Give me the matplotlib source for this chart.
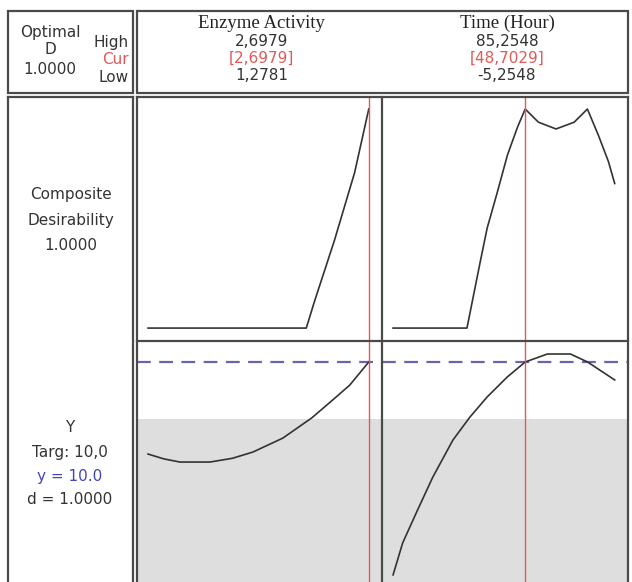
import numpy as np
import matplotlib
matplotlib.use("Agg")
import matplotlib.pyplot as plt
from matplotlib.patches import Rectangle

# %% DATA
factors = ["Enzyme Activity", "Time (Hour)"]
f_high = [2.6979, 85.2548]
f_cur = [2.6979, 48.7029]
f_low = [1.2781, -5.2548]
high_txt = ["2,6979", "85,2548"]
cur_txt = ["[2,6979]", "[48,7029]"]
low_txt = ["1,2781", "-5,2548"]

target = 10.0
lower_bound = 8.0
comp_d = "1.0000"

# composite desirability vs factor
enz_d_x = [1.2781, 2.296, 2.348, 2.477, 2.607, 2.6979]
enz_d_y = [0.0, 0.0, 0.12, 0.40, 0.71, 1.0]
time_d_x = [-5.2548, 24.92, 30.29, 33.18, 37.31, 41.45, 45.58, 48.70,
            54.1, 61.3, 68.7, 74.1, 78.6, 82.7, 85.2548]
time_d_y = [0.0, 0.0, 0.30, 0.457, 0.62, 0.79, 0.918, 1.0,
            0.94, 0.909, 0.94, 1.0, 0.88, 0.76, 0.66]

# predicted response Y vs factor
enz_y_x = [1.2781, 1.38, 1.4837, 1.6764, 1.82, 1.9526, 2.1453, 2.3316, 2.4665, 2.5757, 2.6979]
enz_y_y = [6.77, 6.60, 6.49, 6.49, 6.62, 6.84, 7.33, 8.04, 8.67, 9.19, 10.0]
time_y_x = [-5.2548, -1.35, 4.39, 10.96, 19.17, 26.15, 33.13, 41.33, 48.7029,
            57.75, 67.19, 74.17, 85.2548]
time_y_y = [2.53, 3.65, 4.74, 5.96, 7.26, 8.07, 8.77, 9.47, 10.0,
            10.28, 10.28, 10.0, 9.37]

# %% LAYOUT (pixels)
W, H = 632, 582
col_x = [(137, 382), (382, 628)]
row_d = (97, 341)
row_y = (341, H)

def frac(x0, x1, y0, y1):
    return [x0 / W, 1 - y1 / H, (x1 - x0) / W, (y1 - y0) / H]

line_c = "#333333"
red_c = "#e05a5a"
blue_c = "#6666aa"
txt_c = "#333333"
border_c = "#4a4a4a"

fig = plt.figure(figsize=(W / 100, H / 100), dpi=100)
fig.patch.set_facecolor("white")

curves_d = [(enz_d_x, enz_d_y), (time_d_x, time_d_y)]
curves_y = [(enz_y_x, enz_y_y), (time_y_x, time_y_y)]
pads = (0.05, 0.06)

for i in range(2):
    lo, hi = f_low[i], f_high[i]
    span = hi - lo
    xlim = (lo - pads[0] * span, hi + pads[1] * span)

    # desirability panel
    ax = fig.add_axes(frac(col_x[i][0], col_x[i][1], row_d[0], row_d[1]))
    ax.plot(curves_d[i][0], curves_d[i][1], color=line_c, lw=1.2)
    ax.axvline(f_cur[i], color=red_c, lw=1.0)
    ax.set_xlim(xlim)
    ax.set_ylim(-0.059, 1.055)
    ax.axis("off")

    # response panel
    ax = fig.add_axes(frac(col_x[i][0], col_x[i][1], row_y[0], row_y[1]))
    ax.axhspan(2.0, lower_bound, color="#dedede", lw=0, zorder=0)
    ax.plot(curves_y[i][0], curves_y[i][1], color=line_c, lw=1.2, zorder=3)
    ax.axhline(target, color=blue_c, lw=1.6, ls=(0, (6.2, 3.8)), zorder=2)
    ax.axvline(f_cur[i], color=red_c, lw=1.0, zorder=4)
    ax.set_xlim(xlim)
    ax.set_ylim(10 - (H - 362) / 28.5, 10 + 21 / 28.5)
    ax.axis("off")

# %% OVERLAY: borders and text
ov = fig.add_axes([0, 0, 1, 1], zorder=10)
ov.set_xlim(0, W)
ov.set_ylim(H, 0)
ov.patch.set_alpha(0)
ov.axis("off")

lw_b = 1.6
ov.add_patch(Rectangle((8, 11), 125, 82, fill=False, ec=border_c, lw=lw_b))
ov.add_patch(Rectangle((137, 11), 491, 82, fill=False, ec=border_c, lw=lw_b))
ov.plot([8, 8], [97, H + 5], color=border_c, lw=lw_b)
ov.plot([133, 133], [97, H + 5], color=border_c, lw=lw_b)
ov.plot([8, 133], [97, 97], color=border_c, lw=lw_b)
ov.plot([137, 628], [97, 97], color=border_c, lw=lw_b)
for x in (137, 382, 628):
    ov.plot([x, x], [97, H + 5], color=border_c, lw=lw_b)
ov.plot([137, 628], [341, 341], color=border_c, lw=lw_b)

fs = 11
ov.text(50, 32, "Optimal", ha="center", va="center", fontsize=fs, color=txt_c)
ov.text(50, 50, "D", ha="center", va="center", fontsize=fs, color=txt_c)
ov.text(50, 70, comp_d, ha="center", va="center", fontsize=fs, color=txt_c)
ov.text(129, 43, "High", ha="right", va="center", fontsize=fs, color=txt_c)
ov.text(129, 60, "Cur", ha="right", va="center", fontsize=fs, color=red_c)
ov.text(129, 78, "Low", ha="right", va="center", fontsize=fs, color=txt_c)

for i in range(2):
    cx = (col_x[i][0] + col_x[i][1]) / 2 + 2
    ov.text(cx, 23, factors[i], ha="center", va="center", fontsize=13.5,
            family="Liberation Serif", color="#222222")
    ov.text(cx, 42, high_txt[i], ha="center", va="center", fontsize=fs, color=txt_c)
    ov.text(cx, 58, cur_txt[i], ha="center", va="center", fontsize=fs, color=red_c)
    ov.text(cx, 76, low_txt[i], ha="center", va="center", fontsize=fs, color=txt_c)

ov.text(71, 195, "Composite", ha="center", va="center", fontsize=fs, color=txt_c)
ov.text(71, 221, "Desirability", ha="center", va="center", fontsize=fs, color=txt_c)
ov.text(71, 245, comp_d, ha="center", va="center", fontsize=fs, color=txt_c)

ov.text(70, 428, "Y", ha="center", va="center", fontsize=fs, color=txt_c)
ov.text(70, 452, "Targ: 10,0", ha="center", va="center", fontsize=fs, color=txt_c)
ov.text(70, 477, "y = 10.0", ha="center", va="center", fontsize=fs, color="#4444bb")
ov.text(70, 500, "d = 1.0000", ha="center", va="center", fontsize=fs, color=txt_c)

fig.savefig("out.png", dpi=100)
